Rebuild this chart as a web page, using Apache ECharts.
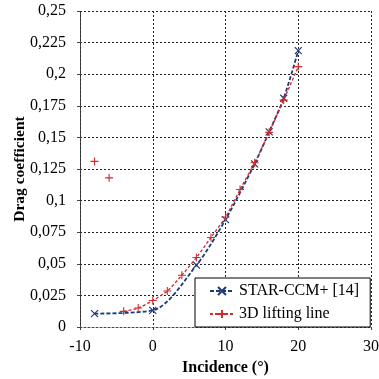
<!DOCTYPE html>
<html>
<head>
<meta charset="utf-8">
<script src="https://cdn.jsdelivr.net/npm/echarts@6/dist/echarts.min.js"></script>
<style>html,body{margin:0;padding:0;background:#fff}#c{width:379px;height:379px}</style>
</head>
<body>
<div id="c"></div>
<script>
// STAR-CCM+ [14]
const starX = [-8, 0, 6, 10, 14, 16, 18, 20];
const starY = [0.0106, 0.0132, 0.0489, 0.085, 0.129, 0.1544, 0.181, 0.2186];
// 3D lifting line (isolated points at -8, -6, then curve from -4); null = gap
const llX = [-8, -7, -6, -5, -4, -2, 0, 2, 4, 6, 8, 10, 12, 14, 16, 18, 20];
const llY = [0.131, null, 0.118, null, 0.0124, 0.015, 0.021, 0.0285, 0.041, 0.055, 0.0708, 0.087, 0.1088, 0.130, 0.154, 0.1795, 0.206];
const xTicks = [-10, 0, 10, 20, 30];
const yTicks = [0, 0.025, 0.05, 0.075, 0.1, 0.125, 0.15, 0.175, 0.2, 0.225, 0.25];

const font = 'Liberation Serif';
const navy = '#1f3a78';
const red = '#d42a2a';
const crossPath = 'path://M0,0L10,10M10,0L0,10';
const plusPath = 'path://M5,0L5,10M0,5L10,5';

const chart = echarts.init(document.getElementById('c'));
chart.setOption({
  animation: false,
  backgroundColor: '#fff',
  grid: { left: 80, right: 8, top: 11, bottom: 52, containLabel: false, outerBoundsMode: 'none' },
  xAxis: {
    type: 'value', min: xTicks[0], max: xTicks[xTicks.length - 1], interval: 10,
    name: 'Incidence (°)', nameLocation: 'middle', nameGap: 33, nameMoveOverlap: false,
    nameTextStyle: { fontFamily: font, fontWeight: 'bold', fontSize: 16, color: '#000' },
    axisLine: { onZero: false, lineStyle: { color: '#444', type: [2, 2], width: 1 } },
    axisTick: { show: true, length: 3, lineStyle: { color: '#444' } },
    axisLabel: { fontFamily: font, fontSize: 16, color: '#000', margin: 12 },
    splitLine: { show: true, lineStyle: { color: '#222', type: [2, 2], width: 1 } }
  },
  yAxis: {
    type: 'value', min: 0, max: 0.25, interval: 0.025,
    name: 'Drag coefficient', nameLocation: 'middle', nameGap: 52, nameMoveOverlap: false,
    nameTextStyle: { fontFamily: font, fontWeight: 'bold', fontSize: 15.5, color: '#000' },
    axisLine: { show: true, onZero: false, lineStyle: { color: '#444', type: [2, 2], width: 1 } },
    axisTick: { show: true, length: 3, lineStyle: { color: '#444' } },
    axisLabel: {
      fontFamily: font, fontSize: 16, color: '#000', margin: 14,
      formatter: v => (+v.toFixed(3)).toString().replace('.', ',')
    },
    splitLine: { show: true, lineStyle: { color: '#222', type: [2, 2], width: 1 } }
  },
  legend: {
    orient: 'vertical', left: 195, top: 278,
    padding: [5, 11, 5, 14], itemGap: 7,
    itemWidth: 24, itemHeight: 10,
    backgroundColor: '#fff', borderColor: '#000', borderWidth: 1,
    textStyle: { fontFamily: font, fontSize: 16, color: '#000' },
    data: ['STAR-CCM+ [14]', '3D lifting line']
  },
  series: [
    {
      name: 'STAR-CCM+ [14]', type: 'line',
      data: starX.map((x, i) => [x, starY[i]]),
      smooth: 0.3,
      symbol: crossPath, symbolSize: 7,
      itemStyle: { color: 'rgba(0,0,0,0)', borderColor: navy, borderWidth: 1.2 },
      lineStyle: { color: navy, width: 1.8, type: [4, 2] },
      z: 3
    },
    {
      name: '3D lifting line', type: 'line',
      data: llX.map((x, i) => [x, llY[i] === null ? '-' : llY[i]]),
      smooth: 0.3, connectNulls: false,
      symbol: plusPath, symbolSize: 8,
      itemStyle: { color: 'rgba(0,0,0,0)', borderColor: red, borderWidth: 1.1 },
      lineStyle: { color: red, width: 1.3, type: [3, 2] },
      z: 4
    }
  ]
});
</script>
</body>
</html>
